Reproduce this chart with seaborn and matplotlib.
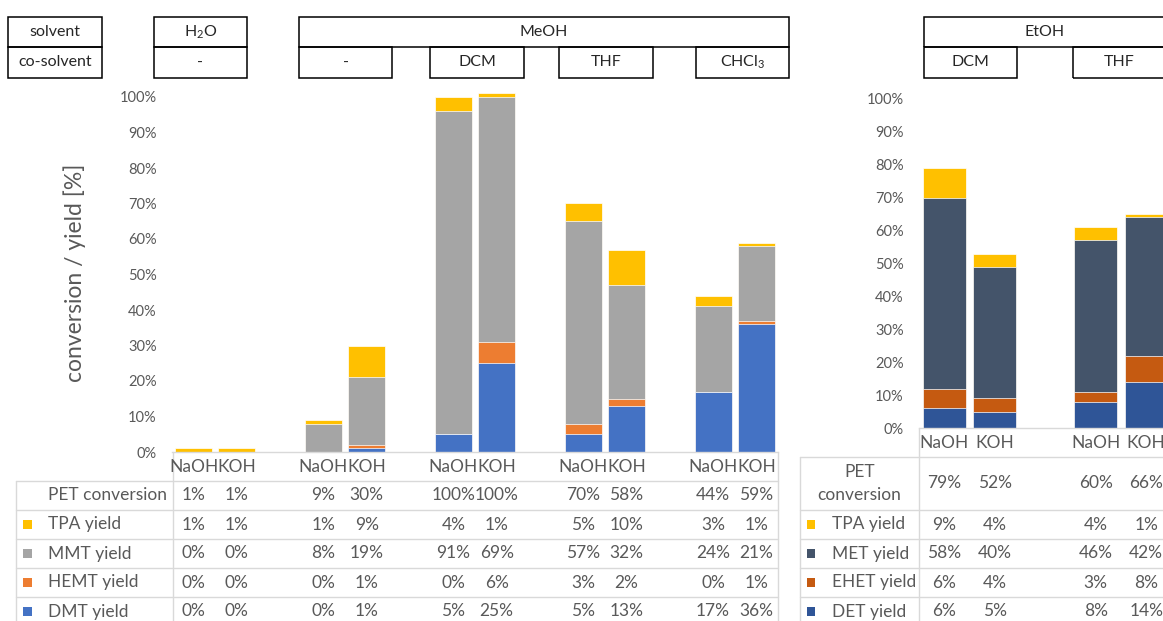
import numpy as np
import pandas as pd
import seaborn as sns
import matplotlib
matplotlib.use("Agg")
import matplotlib.pyplot as plt
from matplotlib.patches import Rectangle
from matplotlib.lines import Line2D
from matplotlib.transforms import blended_transform_factory

# ---------------- data ----------------
bases = ["NaOH", "KOH"]

# methanol series (H2O, MeOH, MeOH/DCM, MeOH/THF, MeOH/CHCl3), NaOH/KOH pairs
left_groups = ["H2O", "MeOH", "MeOH-DCM", "MeOH-THF", "MeOH-CHCl3"]
pet_conv_left = [1, 1, 9, 30, 100, 100, 70, 58, 44, 59]
tpa_left = [1, 1, 1, 9, 4, 1, 5, 10, 3, 1]
mmt_left = [0, 0, 8, 19, 91, 69, 57, 32, 24, 21]
hemt_left = [0, 0, 0, 1, 0, 6, 3, 2, 0, 1]
dmt_left = [0, 0, 0, 1, 5, 25, 5, 13, 17, 36]

# ethanol series (EtOH/DCM, EtOH/THF)
right_groups = ["EtOH-DCM", "EtOH-THF"]
pet_conv_right = [79, 52, 60, 66]
tpa_right = [9, 4, 4, 1]
met_right = [58, 40, 46, 42]
ehet_right = [6, 4, 3, 8]
det_right = [6, 5, 8, 14]

left_labels = ["TPA yield", "MMT yield", "HEMT yield", "DMT yield"]
right_labels = ["TPA yield", "MET yield", "EHET yield", "DET yield"]
left_colors = ["#FFC000", "#A5A5A5", "#ED7D31", "#4472C4"]
right_colors = ["#FFC000", "#44546A", "#C55A11", "#2F5597"]

# ---------------- style ----------------
sns.set_style("white")
plt.rcParams["font.family"] = ["Lato", "DejaVu Sans"]
plt.rcParams["mathtext.fontset"] = "custom"
plt.rcParams["mathtext.rm"] = "Lato"
plt.rcParams["mathtext.it"] = "Lato:italic"
plt.rcParams["mathtext.bf"] = "Lato:bold"

W, H = 1163, 621
fig = plt.figure(figsize=(W / 100, H / 100), dpi=100)


def fx(px):
    return px / W


def fy(py):
    return 1 - py / H


GRID = "#d9d9d9"
TXT = "#595959"
TFS = 12.5


def category_order(groups):
    order = []
    for i, g in enumerate(groups):
        if i > 0:
            order.append(f"gap{i}")
        order += [f"{g}|{b}" for b in bases]
    return order


def stacked_bars(ax, groups, layers, colors, width):
    """layers listed bottom -> top; draws cumulative totals, tallest first."""
    conds = [f"{g}|{b}" for g in groups for b in bases]
    order = category_order(groups)
    cum = np.cumsum(np.array(layers, dtype=float), axis=0)
    for k in range(len(layers) - 1, -1, -1):
        df = pd.DataFrame({"cond": conds, "value": cum[k]})
        sns.barplot(data=df, x="cond", y="value", order=order, color=colors[k],
                    saturation=1, width=width, errorbar=None, ax=ax,
                    edgecolor="white", linewidth=0.5)
    for p in ax.patches:
        p.set_clip_on(False)
    ax.set_xlim(-0.5, len(order) - 0.5)
    ax.set_ylim(0, 100)
    ax.set_yticks(np.arange(0, 101, 10))
    ax.set_yticklabels([f"{v}%" for v in range(0, 101, 10)])
    ax.tick_params(axis="y", length=0, pad=11, labelsize=10.5, labelcolor=TXT)
    ax.set_xticks([])
    ax.set_xlabel("")
    ax.set_ylabel("")
    for s in ["top", "right", "left"]:
        ax.spines[s].set_visible(False)
    ax.spines["bottom"].set_color(GRID)
    ax.spines["bottom"].set_linewidth(1)
    return order


def hline(x0, x1, y):
    fig.add_artist(Line2D([fx(x0), fx(x1)], [fy(y), fy(y)], color=GRID, lw=1,
                          transform=fig.transFigure))


def vline(x, y0, y1):
    fig.add_artist(Line2D([fx(x), fx(x)], [fy(y0), fy(y1)], color=GRID, lw=1,
                          transform=fig.transFigure))


def data_table(ax, order, rows, row_names, key_colors, geom):
    """rows: list of value lists (one per table row), first row without key."""
    tr = blended_transform_factory(ax.transData, fig.transFigure)
    cols = [i for i, c in enumerate(order) if "|" in c]
    names = [order[i].split("|")[1] for i in cols]
    y_axis, y_head, row_y, lab_x0, lab_x1, ax_x1, key_x, txt_x, pet_two = geom
    # category row
    for c, n in zip(cols, names):
        fig.text(c, fy((y_axis + y_head) / 2), n, transform=tr, ha="center",
                 va="center", fontsize=TFS, color=TXT)
    # grid
    vline(lab_x1, y_axis, H + 5)
    vline(lab_x0, y_head, H + 5)
    vline(ax_x1, y_axis, H + 5)
    hline(lab_x0, ax_x1, y_head)
    for yb in row_y[1:]:
        hline(lab_x0, ax_x1, yb)
    # rows
    for r, (vals, name) in enumerate(zip(rows, row_names)):
        top, bot = row_y[r], row_y[r + 1]
        yc = fy((top + bot) / 2)
        for c, v in zip(cols, vals):
            fig.text(c, yc, f"{v}%", transform=tr, ha="center", va="center",
                     fontsize=TFS, color=TXT)
        if r == 0:
            if pet_two:
                fig.text(fx((lab_x0 + lab_x1) / 2), yc, "PET\nconversion",
                         ha="center", va="center", fontsize=TFS, color=TXT,
                         linespacing=1.55)
            else:
                fig.text(fx(txt_x), yc, name, ha="left", va="center",
                         fontsize=TFS, color=TXT)
        else:
            fig.add_artist(Rectangle((fx(key_x - 4.5), yc - 4.5 / H), 9 / W, 9 / H,
                                     transform=fig.transFigure,
                                     facecolor=key_colors[r - 1], edgecolor="none"))
            fig.text(fx(txt_x), yc, name, ha="left", va="center", fontsize=TFS,
                     color=TXT)


# ---------------- left chart ----------------
ax1 = fig.add_axes([fx(172), fy(452), (778 - 172) / W, (452 - 97) / H])
order1 = stacked_bars(ax1, left_groups,
                      [dmt_left, hemt_left, mmt_left, tpa_left],
                      left_colors[::-1], 0.855)
ax1.set_ylabel("conversion / yield [%]", fontsize=16.5, color=TXT)
ax1.yaxis.set_label_coords((86 - 172) / 606, 0.505)
data_table(ax1, order1,
           [pet_conv_left, tpa_left, mmt_left, hemt_left, dmt_left],
           ["PET conversion"] + left_labels, left_colors,
           (452, 481, [481, 510, 539, 568, 597, 626], 16, 173, 778, 27, 48, False))

# ---------------- right chart ----------------
ax2 = fig.add_axes([fx(919), fy(428), 5 * 50.5 / W, (428 - 99) / H])
order2 = stacked_bars(ax2, right_groups,
                      [det_right, ehet_right, met_right, tpa_right],
                      right_colors[::-1], 0.85)
data_table(ax2, order2,
           [pet_conv_right, tpa_right, met_right, ehet_right, det_right],
           ["PET conversion"] + right_labels, right_colors,
           (428, 457, [457, 510, 539, 568, 597, 626], 800, 919, W + 20, 811, 832, True))

# ---------------- header boxes ----------------
HEAD = "#262626"


def box(x0, x1, y0, y1, text):
    fig.add_artist(Rectangle((fx(x0), fy(y1)), (x1 - x0) / W, (y1 - y0) / H,
                             transform=fig.transFigure, fill=False,
                             edgecolor="black", lw=1.1))
    if text:
        fig.text(fx((x0 + x1) / 2), fy((y0 + y1) / 2), text, ha="center",
                 va="center", fontsize=11.5, color=HEAD)


R1, R2, R3 = 17, 47, 78
box(8, 102, R1, R2, "solvent")
box(8, 102, R2, R3, "co-solvent")
box(154, 247, R1, R2, r"H$_\mathregular{2}$O")
box(154, 247, R2, R3, "-")
box(299, 789, R1, R2, "MeOH")
box(299, 392, R2, R3, "-")
box(430, 524, R2, R3, "DCM")
box(559, 653, R2, R3, "THF")
box(696, 789, R2, R3, r"CHCl$_\mathregular{3}$")
box(924, 1213, R1, R2, "")
fig.text(fx(1045), fy((R1 + R2) / 2), "EtOH", ha="center", va="center",
         fontsize=11.5, color=HEAD)
box(924, 1017, R2, R3, "DCM")
box(1073, 1166, R2, R3, "THF")

fig.savefig("out.png", dpi=100)
